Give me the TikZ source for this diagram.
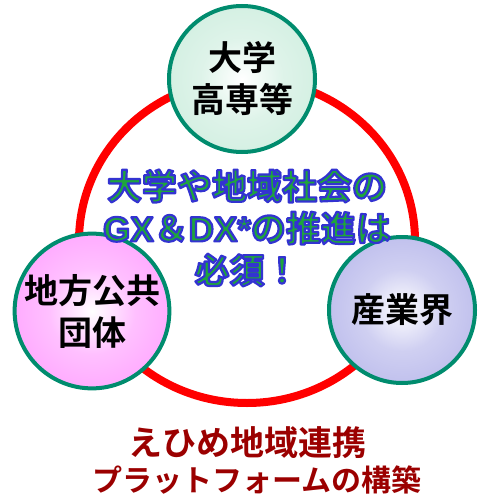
\documentclass[tikz,border=0pt]{standalone}
\usepackage{fontspec}
\setmainfont{Noto Sans CJK JP}[BoldFont={Noto Sans CJK JP Bold}]
\newfontfamily\latin{Liberation Sans}
\definecolor{rim}{RGB}{0,140,110}
\definecolor{goalgreen}{RGB}{30,165,60}
\definecolor{titlered}{RGB}{155,0,0}
\definecolor{mint}{RGB}{190,232,212}
\definecolor{pink}{RGB}{255,128,255}
\definecolor{lilac}{RGB}{160,160,228}
\colorlet{mintmid}{white!50!mint}
\colorlet{pinkmid}{white!50!pink}
\colorlet{lilacmid}{white!50!lilac}
\newcommand{\ballshade}[3]{\pgfdeclareradialshading{#1}{\pgfpoint{0bp}{0bp}}{color(0bp)=(white); color(14bp)=(#2); color(50bp)=(#3)}}
\ballshade{mintball}{mintmid}{mint}
\ballshade{pinkball}{pinkmid}{pink}
\ballshade{lilacball}{lilacmid}{lilac}
% green letters with a blue rim (text render mode 2)
\newcommand{\goalline}[1]{\textcolor{goalgreen}{\special{pdf:literal direct 2 Tr 2.2 w 1 j 0.2 0.2 0.82 RG}#1\special{pdf:literal direct 0 Tr}}}
\tikzset{ball/.style={circle, draw=rim, line width=4pt, minimum size=146pt, inner sep=0pt, align=center, font=\bfseries\fontsize{34}{42}\selectfont}}

\begin{document}
\begin{tikzpicture}[x=1pt, y=-1pt]
                    \useasboundingbox (0,0) rectangle (484,497);

                    \draw[red, line width=8pt] (247,241) ellipse [x radius=168, y radius=162];

                    \node[ball, shading=mintball] (univ) at (242,79) {大学\\高専等};
                    \node[ball, shading=pinkball] (local) at (92,311) {地方公共\\団体};
                    \node[ball, shading=lilacball] (industry) at (402,310) {産業界};

                    \node[align=center, font=\bfseries\fontsize{35}{42}\selectfont] (goal) at (247,228)
                        {\goalline{大学や地域社会の}\\\goalline{{\latin GX}＆{\latin DX*}の推進は}\\\goalline{必須！}};

                    \node[text=titlered, font=\bfseries\fontsize{34}{38}\selectfont] (title) at (247,443) {えひめ地域連携};
                    \node[text=titlered, font=\bfseries\fontsize{30}{34}\selectfont] (subtitle) at (257,480) {プラットフォームの構築};
                \end{tikzpicture}
\end{document}
